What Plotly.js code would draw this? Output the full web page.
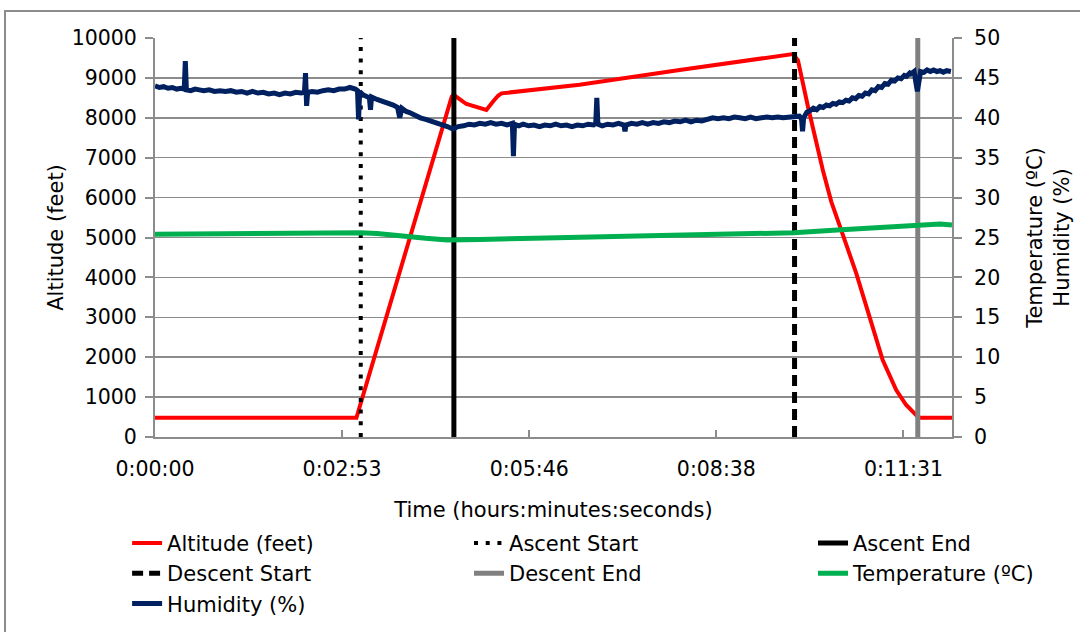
<!DOCTYPE html>
<html>
<head>
<meta charset="utf-8">
<script src="https://cdn.plot.ly/plotly-3.0.1.min.js"></script>
<style>
  html, body { margin:0; padding:0; background:#fff; overflow:hidden; }
  #wrap { position:relative; width:1080px; height:632px; overflow:hidden; }
  #chart { position:absolute; left:0; top:0; width:1080px; height:632px; }
  #frame { position:absolute; left:4px; top:10px; width:1100px; height:660px; border:2px solid #8c8c8c; pointer-events:none; }
</style>
</head>
<body>
<div id="wrap">
  <div id="chart"></div>
  <div id="frame"></div>
</div>
<script>
// ---- data (time in seconds since start) ----
var tickSeconds = [0, 172.8, 345.6, 518.4, 691.2];
var tickLabels  = ['0:00:00', '0:02:53', '0:05:46', '0:08:38', '0:11:31'];

var altTime  = [0, 186, 274, 276, 287.6, 306, 312, 316.8, 320, 392, 484.5, 589, 593.7, 603, 616.7, 624.5, 633.7, 647.6, 659.8, 672, 684.5, 693.7, 702.9, 705, 736];
var altFeet  = [480, 480, 8530, 8570, 8345, 8195, 8403, 8553, 8613, 8830, 9197, 9598, 9447, 8277, 6691, 5900, 5184, 4102, 3015, 1930, 1178, 802, 551, 480, 480];

var tempTime = [0, 30, 60, 110, 150, 190, 205, 225, 250, 270, 280, 300, 350, 440, 560, 590, 630, 670, 700, 725, 736];
var tempC    = [25.4, 25.45, 25.5, 25.55, 25.6, 25.6, 25.5, 25.2, 24.9, 24.7, 24.7, 24.75, 24.9, 25.2, 25.5, 25.6, 25.95, 26.25, 26.5, 26.7, 26.55];

var humTime = [0,4,8,12,16,20,24,27,28,29,33,37,41,45,50,55,60,65,70,75,80,85,90,95,100,105,110,115,120,125,130,135,138,139,140,141,145,150,155,160,165,170,175,180,185,187,188,189,192,196,198,199,200,205,210,215,220,224,226,228,232,236,240,245,250,255,260,265,270,275,280,285,290,295,300,305,310,315,320,325,330,331,332,336,340,345,350,355,360,365,370,375,380,385,390,395,400,405,407,408,409,413,418,423,428,433,434,435,440,445,450,455,460,465,470,475,480,485,490,495,500,505,510,515,520,525,530,535,540,545,550,555,560,565,570,575,580,585,590,595,597,598,599,602,605,608,611,614,617,620,623,626,629,632,635,638,641,644,647,650,653,656,659,662,665,668,671,674,677,680,683,686,689,692,694,697,698,701,704,707,710,713,716,719,722,725,728,731,735];
var humPct  = [44.0,43.8,43.9,43.7,43.8,43.6,43.7,43.6,47.1,43.5,43.4,43.6,43.5,43.4,43.5,43.3,43.4,43.3,43.4,43.2,43.3,43.1,43.3,43.1,43.2,43.0,43.1,42.9,43.1,43.0,43.2,43.1,43.2,45.6,41.5,43.2,43.3,43.2,43.4,43.5,43.4,43.6,43.6,43.8,43.6,43.4,39.8,43.3,42.9,42.6,42.5,41.0,42.6,42.3,42.1,41.8,41.6,41.3,40.0,41.2,40.8,40.6,40.3,40.0,39.8,39.6,39.3,39.1,38.9,38.6,38.9,39.0,39.2,39.1,39.3,39.2,39.4,39.2,39.3,39.1,39.3,35.2,39.2,39.0,39.2,39.0,39.1,38.9,39.1,39.0,39.2,39.0,39.1,38.9,39.1,39.0,39.2,39.1,39.3,42.5,39.2,39.0,39.2,39.1,39.3,39.1,38.3,39.1,39.3,39.2,39.4,39.2,39.4,39.3,39.5,39.4,39.6,39.5,39.7,39.5,39.7,39.6,39.8,40.0,39.9,40.0,39.9,40.1,40.0,39.9,40.1,39.9,40.0,40.1,40.0,40.1,40.0,40.1,40.1,40.2,39.9,38.3,40.0,40.7,40.9,41.2,41.0,41.4,41.3,41.6,41.5,41.8,41.7,42.0,41.9,42.2,42.1,42.5,42.4,42.8,42.7,43.1,43.0,43.5,43.4,43.9,43.8,44.3,44.2,44.7,44.6,45.0,44.9,45.3,45.2,45.6,45.5,45.8,43.3,45.8,45.7,46.0,45.8,46.0,45.8,45.9,45.7,45.9,45.8,45.9,45.7,45.7];

var eventNames = ['Ascent Start', 'Ascent End', 'Descent Start', 'Descent End'];
var eventTimes = [190, 276, 590.6, 704.4];
var altRange = [0, 10000];

var F = 'DejaVu Sans, Verdana, sans-serif';

function vline(i, color, width, dash, legend) {
  return {
    x: [eventTimes[i], eventTimes[i]], y: altRange,
    type: 'scatter', mode: 'lines', name: eventNames[i],
    line: {color: color, width: width, dash: dash},
    legend: legend, legendgroup: 'g' + i, hoverinfo: 'skip'
  };
}

var traces = [
  {x: altTime, y: altFeet, type: 'scatter', mode: 'lines', name: 'Altitude (feet)',
   line: {color: '#FF0000', width: 4}, legend: 'legend', legendgroup: 'alt'},
  vline(0, '#000000', 4, '4px,7.7px', 'legend2'),
  vline(1, '#000000', 5, 'solid', 'legend3'),
  vline(2, '#000000', 5, '11px,6px', 'legend'),
  vline(3, '#808080', 5, 'solid', 'legend2'),
  {x: tempTime, y: tempC, type: 'scatter', mode: 'lines', name: 'Temperature (ºC)', yaxis: 'y2',
   line: {color: '#00B050', width: 5}, legend: 'legend3', legendgroup: 'temp'},
  {x: humTime, y: humPct, type: 'scatter', mode: 'lines', name: 'Humidity (%)', yaxis: 'y2',
   line: {color: '#002060', width: 5}, legend: 'legend', legendgroup: 'hum'}
];

var legBase = {
  orientation: 'v', yanchor: 'top', xanchor: 'left', y: -0.215,
  bgcolor: 'rgba(0,0,0,0)', borderwidth: 0, tracegroupgap: 7,
  font: {family: F, size: 21, color: '#000'}, traceorder: 'normal'
};
function leg(x) { var o = Object.assign({}, legBase); o.x = x; return o; }

var TF = {family: F, size: 20.5, color: '#000'};
var HF = {family: F, size: 21, color: '#000'};

var layout = {
  width: 1080, height: 632,
  margin: {l: 155, r: 128, t: 38, b: 195, autoexpand: false},
  paper_bgcolor: '#ffffff', plot_bgcolor: '#ffffff',
  font: {family: F, size: 20, color: '#000'},
  showlegend: true,
  legend: leg(-0.035),
  legend2: leg(0.394),
  legend3: leg(0.8256),
  xaxis: {
    range: [0, 736], tickmode: 'array', tickvals: tickSeconds, ticktext: tickLabels,
    showgrid: false, zeroline: false, showline: true, linecolor: '#8c8c8c', linewidth: 2,
    ticks: 'inside', ticklen: 7, tickwidth: 2, tickcolor: '#8c8c8c',
    tickfont: TF, ticklabelstandoff: 12,
    title: {text: 'Time (hours:minutes:seconds)', font: HF, standoff: 23}
  },
  yaxis: {
    range: altRange, dtick: 1000, tick0: 0, tickformat: 'd',
    showgrid: true, gridcolor: '#8c8c8c', gridwidth: 1.5, zeroline: false,
    showline: true, linecolor: '#8c8c8c', linewidth: 2,
    ticks: 'outside', ticklen: 8, tickwidth: 2, tickcolor: '#8c8c8c',
    tickfont: TF, ticklabelstandoff: 4,
    title: {text: 'Altitude (feet)', font: HF, standoff: 2}
  },
  yaxis2: {
    range: [0, 50], dtick: 5, tick0: 0, overlaying: 'y', side: 'right',
    showgrid: false, zeroline: false,
    showline: true, linecolor: '#8c8c8c', linewidth: 2,
    ticks: 'outside', ticklen: 8, tickwidth: 2, tickcolor: '#8c8c8c',
    tickfont: TF, ticklabelstandoff: 8,
    title: {text: 'Temperature (ºC)<br>Humidity (%)', font: HF, standoff: 28}
  }
};

Plotly.newPlot('chart', traces, layout, {staticPlot: true});
</script>
</body>
</html>
